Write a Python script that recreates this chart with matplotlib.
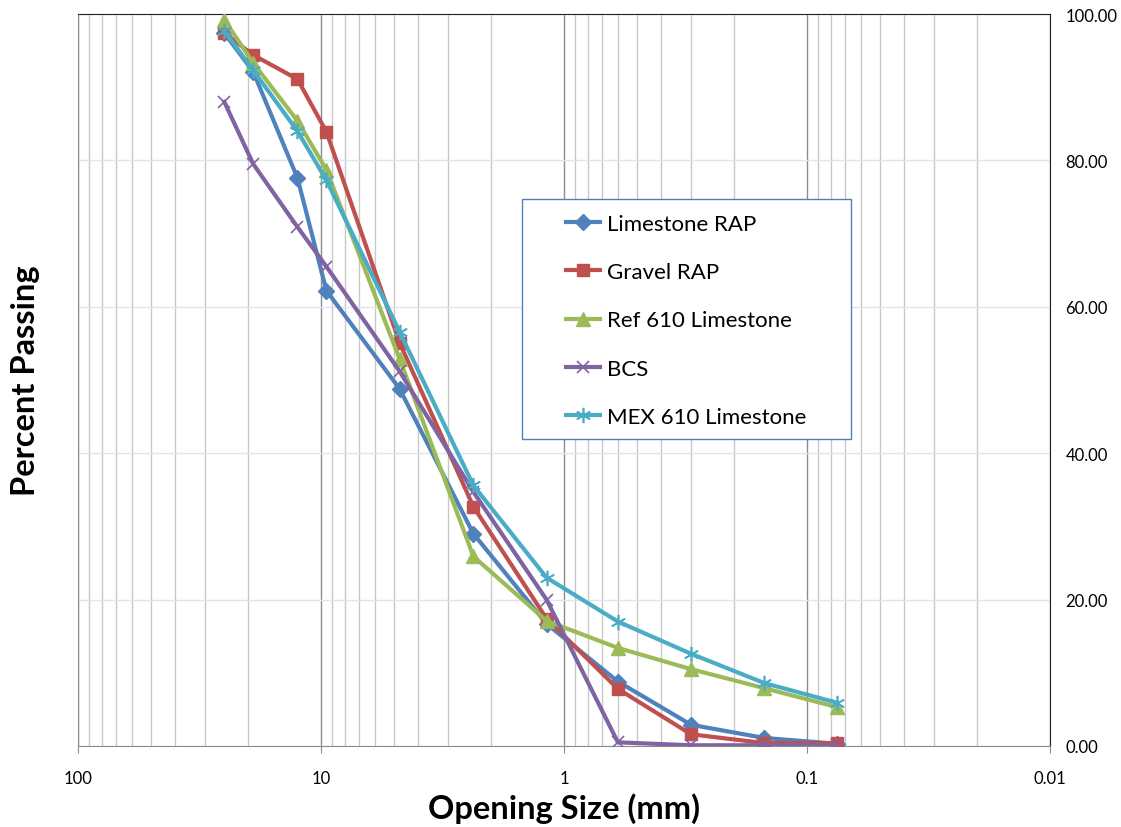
import matplotlib
matplotlib.use("Agg")
import matplotlib.pyplot as plt
from matplotlib.patches import Rectangle
from matplotlib.ticker import LogLocator, FixedLocator, NullFormatter

plt.rcParams["font.family"] = ["Lato", "DejaVu Sans"]

# sieve openings (mm) and percent passing per material
sieves = [25, 19, 12.5, 9.5, 4.75, 2.36, 1.18, 0.6, 0.3, 0.15, 0.075]
limestone_rap = [97.4, 92.1, 77.6, 62.2, 48.8, 29.0, 16.7, 8.8, 2.9, 1.1, 0.3]
gravel_rap = [97.4, 94.4, 91.1, 83.9, 55.1, 32.7, 17.4, 7.8, 1.6, 0.4, 0.4]
ref610 = [99.2, 93.3, 85.4, 78.7, 52.9, 25.9, 17.1, 13.4, 10.5, 7.9, 5.3]
bcs = [88.0, 79.5, 70.9, 65.5, 51.2, 34.7, 20.0, 0.5, 0.1, 0.1, 0.1]
mex610 = [97.7, 92.3, 84.0, 77.3, 56.6, 35.6, 23.0, 17.0, 12.6, 8.6, 5.9]

series = [
    ("Limestone RAP", limestone_rap, "#4F81BD", "D", 8),
    ("Gravel RAP", gravel_rap, "#C0504D", "s", 9),
    ("Ref 610 Limestone", ref610, "#9BBB59", "^", 10),
    ("BCS", bcs, "#8064A2", "x", 9),
    ("MEX 610 Limestone", mex610, "#4BACC6", (6, 2, 0), 11),
]

W, H = 1121, 828
fig = plt.figure(figsize=(W / 100, H / 100), dpi=100)
ax = fig.add_axes([78 / W, 1 - 747 / H, (1050 - 78) / W, (747 - 15) / H])

for name, vals, col, mk, ms in series:
    ax.plot(sieves, vals, color=col, lw=3, marker=mk, ms=ms, mew=1.2 if mk in ("x", (6, 2, 0)) else 1,
            mec=col, mfc=col, label=name, zorder=3)

ax.set_xscale("log")
ax.set_xlim(100, 0.01)
ax.set_ylim(0, 100)

ax.xaxis.set_major_locator(FixedLocator([100, 10, 1, 0.1, 0.01]))
ax.xaxis.set_minor_locator(LogLocator(base=10, subs=range(2, 10), numticks=20))
ax.xaxis.set_minor_formatter(NullFormatter())
ax.set_xticklabels(["100", "10", "1", "0.1", "0.01"])
ax.grid(which="major", axis="x", color="#8c8c8c", lw=1)
ax.grid(which="minor", axis="x", color="#c8c8c8", lw=1)
ax.set_axisbelow(True)

ax.yaxis.tick_right()
ax.set_yticks([0, 20, 40, 60, 80, 100])
ax.set_yticklabels([f"{v:.2f}" for v in [0, 20, 40, 60, 80, 100]])
ax.grid(which="major", axis="y", color="#dde4f2", lw=1)
ax.tick_params(axis="y", length=0, pad=11, labelsize=12)
ax.tick_params(axis="x", which="major", length=5, color="#8c8c8c", pad=12, labelsize=12)
ax.tick_params(axis="x", which="minor", length=0)

for side in ("left", "bottom"):
    ax.spines[side].set_color("#8c8c8c")
for side in ("top", "right"):
    ax.spines[side].set_color("#222222")

ax.set_xlabel("Opening Size (mm)", fontsize=23.5, fontweight="bold", labelpad=5)
ax.set_ylabel("Percent Passing", fontsize=23.5, fontweight="bold", labelpad=27)

# legend box drawn separately so the inner padding can match the original
x0, x1 = (522 - 78) / 972, (851 - 78) / 972
y0, y1 = 1 - (440 - 15) / 732, 1 - (200 - 15) / 732
ax.add_patch(Rectangle((x0, y0), x1 - x0, y1 - y0, transform=ax.transAxes,
                       facecolor="white", edgecolor="#4F81BD", lw=1, zorder=4))
leg = ax.legend(loc="upper left", bbox_to_anchor=((566 - 78) / 972, 1 - (215 - 15) / 732),
                frameon=False, fontsize=16, labelspacing=1.27,
                handlelength=1.55, handletextpad=0.3, borderpad=0, borderaxespad=0)
leg.set_zorder(5)

fig.savefig("out.png", dpi=100)
